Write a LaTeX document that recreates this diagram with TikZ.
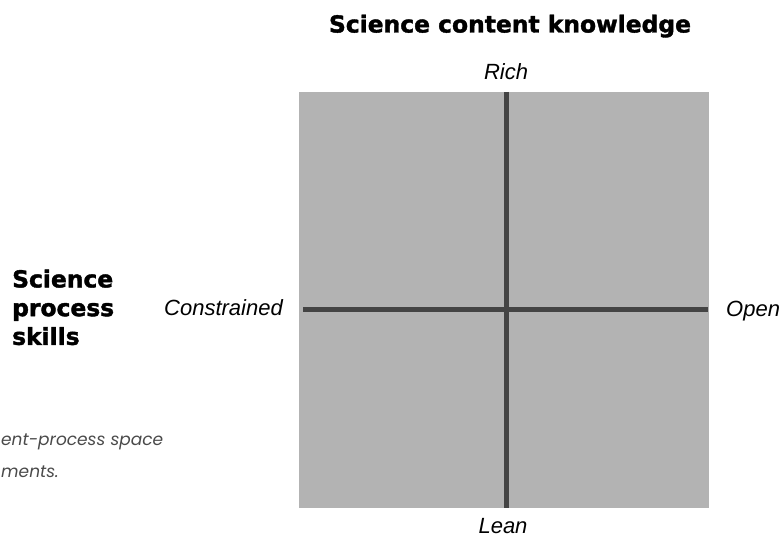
\documentclass[tikz,border=0pt]{standalone}
\usepackage{fontspec}
\setmainfont{Liberation Sans}
\newfontfamily\headfont{DejaVu Sans}[BoldFeatures={FakeBold=1.6}]
\newfontfamily\capfont{Poppins}
\usetikzlibrary{positioning}

\definecolor{panelgray}{HTML}{B3B3B3}
\definecolor{axisgray}{HTML}{444444}
\definecolor{capgray}{HTML}{4A4A4A}

\tikzset{
  heading/.style = {inner sep=0pt, font=\headfont\bfseries\fontsize{23.4}{28.7}\selectfont},
  pole/.style = {inner sep=0pt, font=\itshape\fontsize{22}{26}\selectfont},
  axis/.style = {line width=5pt, draw=axisgray},
  caption/.style = {inner sep=0pt, text=capgray, font=\capfont\itshape\fontsize{17}{20}\selectfont}
}

\begin{document}
\begin{tikzpicture}[x=1pt, y=-1pt]
  \useasboundingbox (0,0) rectangle (781,537);

  % the content-process space
  \fill[panelgray] (299,92) rectangle (709,508);
  \coordinate (top) at (506.7,92);
  \coordinate (bottom) at (506.7,508);
  \coordinate (left) at (303,309.5);
  \coordinate (right) at (708,309.5);
  \draw[axis] (top) -- (bottom);
  \draw[axis] (left) -- (right);

  \node[heading, anchor=base] (content) at (510,32.5) {Science content knowledge};
  \node[heading, anchor=west, align=left] (process) at (12,307.4) {Science\\process\\skills};

  \node[pole, anchor=base] (rich) at (506,80) {Rich};
  \node[pole, anchor=base] (lean) at (503,533) {Lean};
  \node[pole, anchor=base east] (constrained) at (283,315) {Constrained};
  \node[pole, anchor=base west] (open) at (726,316) {Open};

  \node[caption, anchor=base west] (cap1) at (1,445) {ent-process space};
  \node[caption, anchor=base west] (cap2) at (1,477) {ments.};
\end{tikzpicture}
\end{document}
